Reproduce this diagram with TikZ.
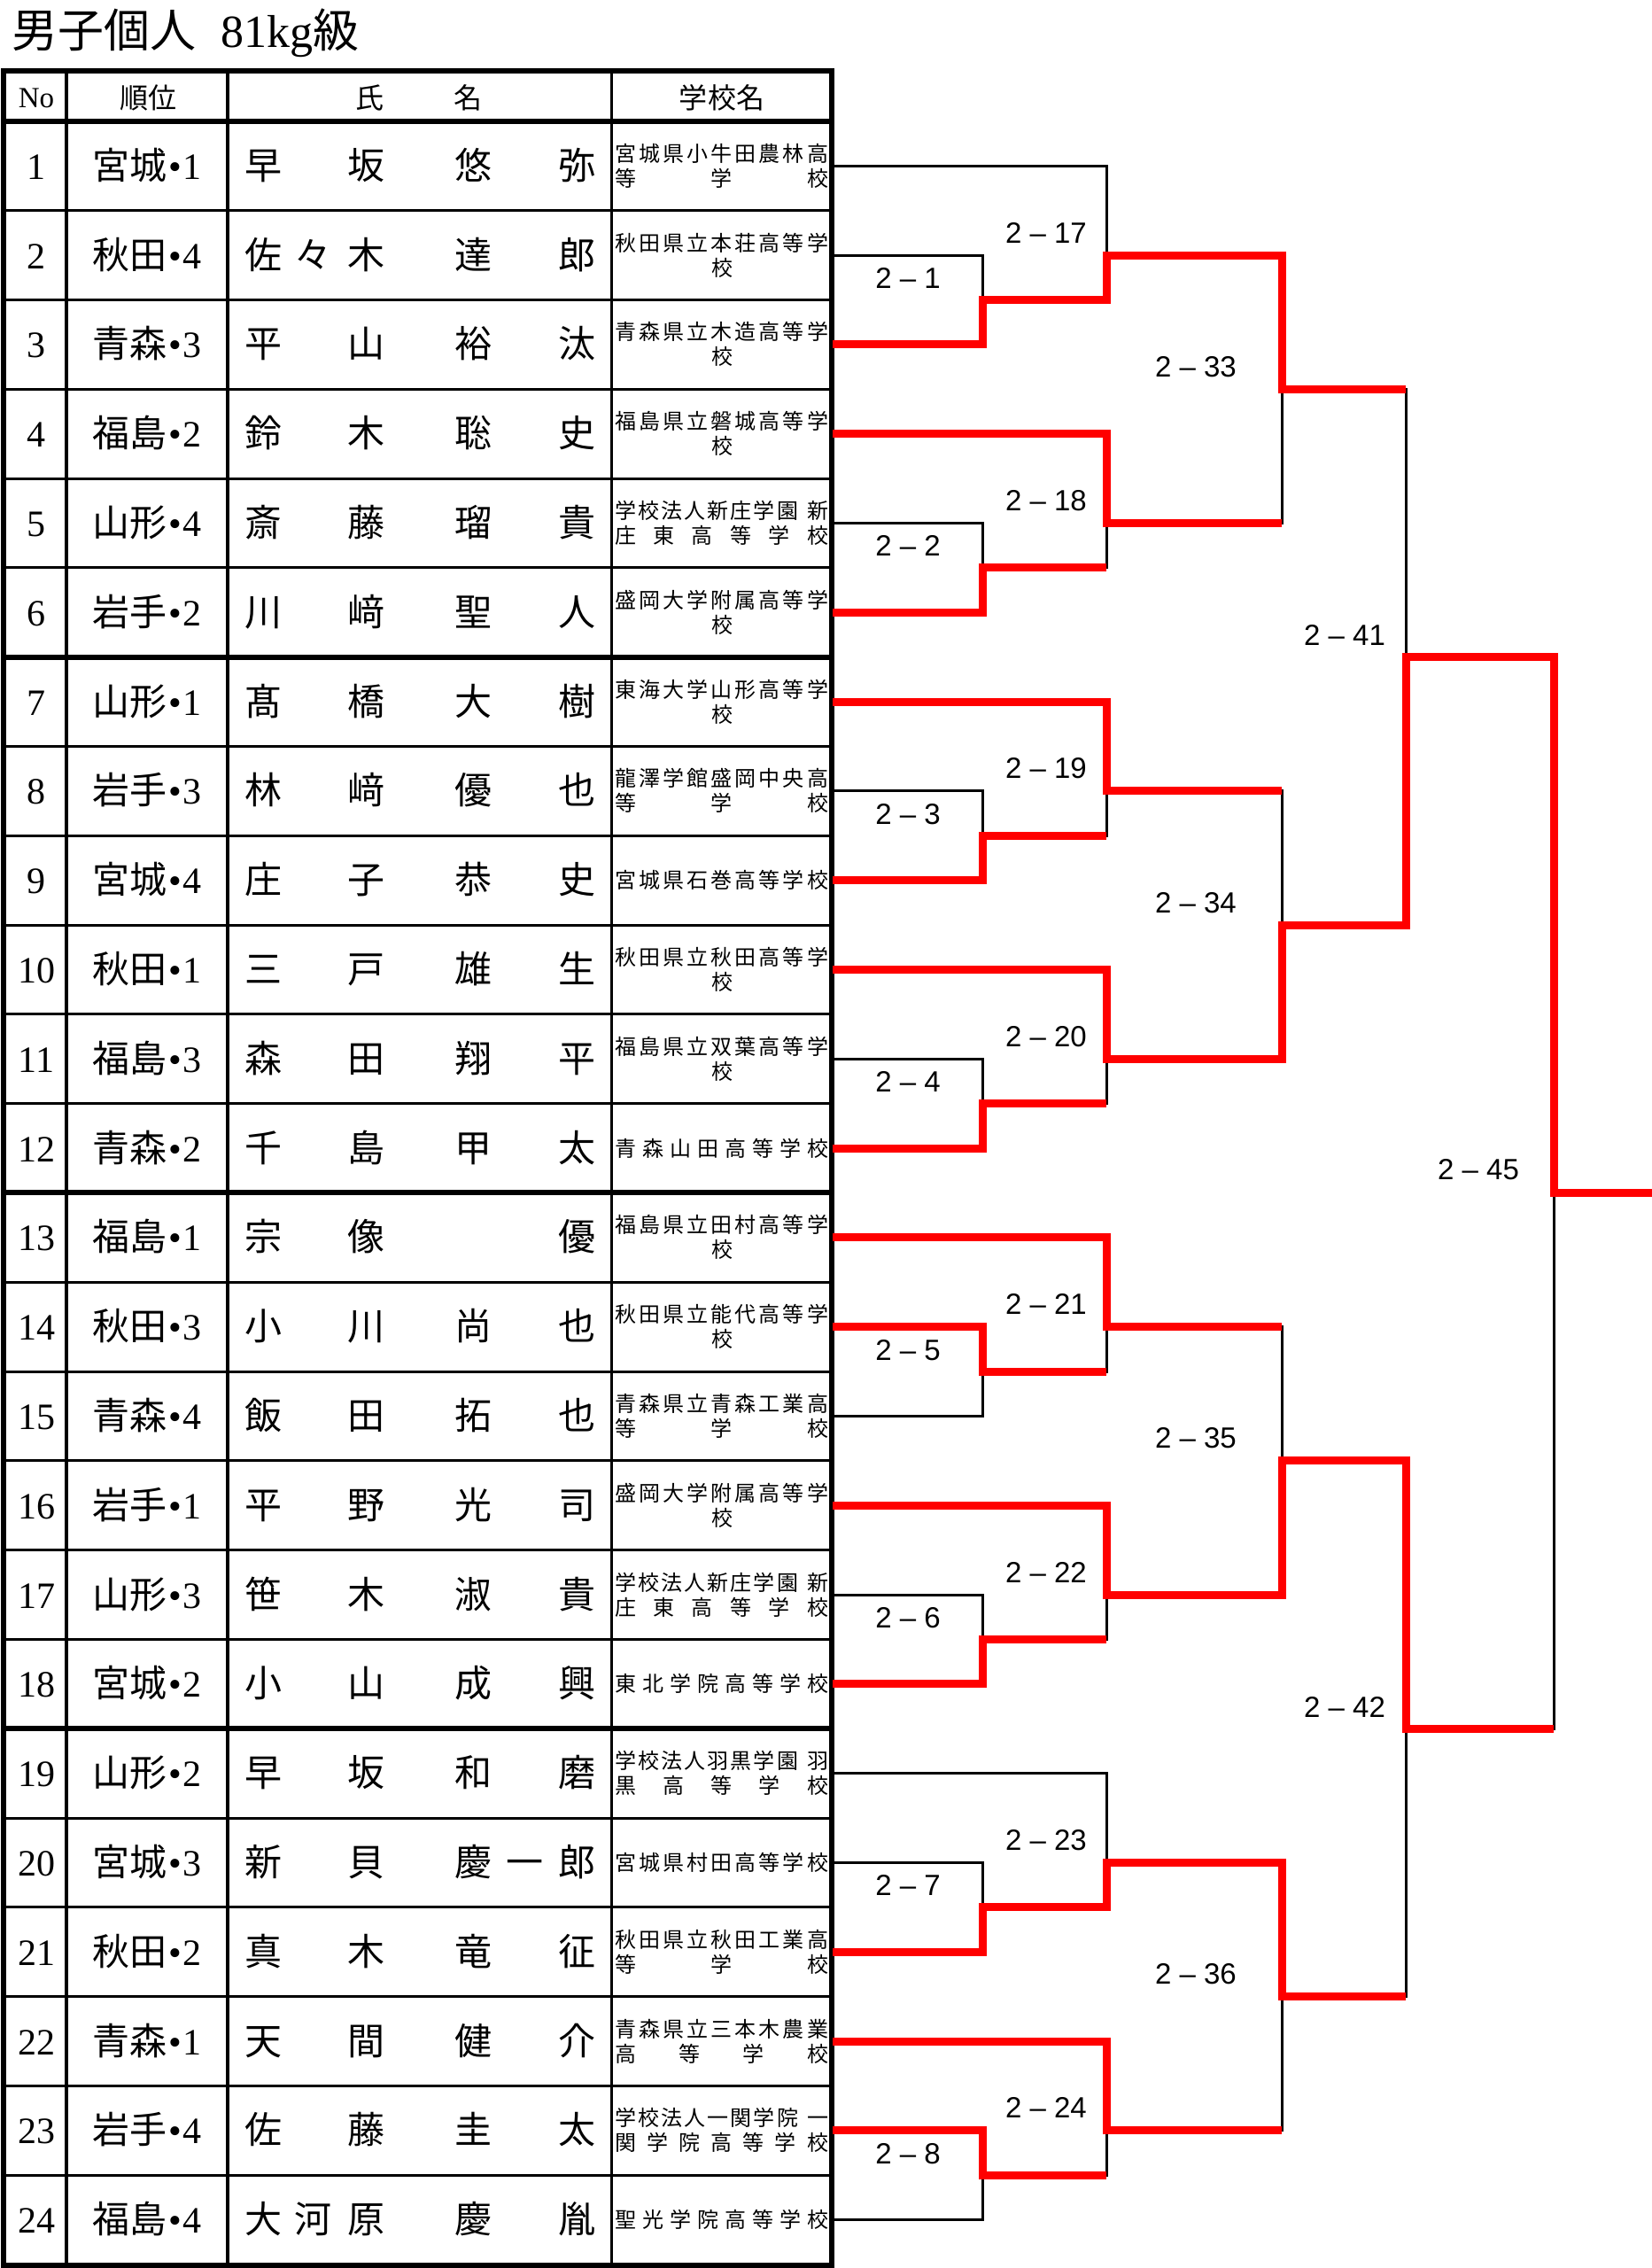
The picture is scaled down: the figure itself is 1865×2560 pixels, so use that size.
\documentclass[tikz,border=0pt]{standalone}
\usepackage{fontspec}
\setmainfont{Liberation Serif}
\newfontfamily\cjk{Noto Sans CJK JP}
\newfontfamily\labfont{Liberation Sans}
\tikzset{
  blk/.style={line width=3pt, black},
  redp/.style={line width=9pt, red, line join=miter},
  rowsep/.style={line width=3pt, black},
  boldsep/.style={line width=6pt, black},
  colsep/.style={line width=4pt, black},
  txt/.style={inner sep=0pt, anchor=base},
  numtxt/.style={txt, font=\fontsize{42}{42}\selectfont},
  nametxt/.style={txt, font=\cjk\fontsize{42}{42}\selectfont},
  schtxt/.style={txt, font=\cjk\fontsize{24}{24}\selectfont},
  headtxt/.style={txt, font=\cjk\fontsize{32}{32}\selectfont},
  mlabel/.style={txt, font=\labfont\fontsize{33}{33}\selectfont},
}
\newcommand\NC[4]{\if\relax\detokenize{#4}\relax\else\node[nametxt] (nm#1#2) at (#3,\yb) {#4};\fi}
\newcommand\PRow[9]{%
  \pgfmathsetmacro\yb{137+100.79*(#1-0.5)+15}%
  \node[numtxt] (no#1) at (41,\yb) {#1};%
  \node[numtxt] (rk#1) at (166,\yb) {{\cjk #2}\hspace{2pt}•\hspace{2pt}#3};%
  \NC{#1}{a}{297}{#4}\NC{#1}{b}{353}{#5}\NC{#1}{c}{413}{#6}%
  \NC{#1}{d}{534}{#7}\NC{#1}{e}{592}{#8}\NC{#1}{f}{651}{#9}%
}
% school line: row, tag, y offset, n, list
\newcommand\SL[5]{%
  \pgfmathsetmacro\sy{137+100.79*(#1-0.5)+#3}%
  \foreach \ch [count=\j from 0] in {#5} {%
    \pgfmathsetmacro\sx{ifthenelse(#4==1,815,706+\j*217/max(#4-1,1))}%
    \node[schtxt] (sc#1#2\j) at (\sx,\sy) {\ch};%
  }%
}
% school first line with a gap: row, list of 8, last char
\newcommand\SG[3]{%
  \pgfmathsetmacro\sy{137+100.79*(#1-0.5)-5}%
  \foreach \ch [count=\j from 0] in {#2} {%
    \node[schtxt] (sc#1a\j) at ({706+\j*26.15},\sy) {\ch};%
  }%
  \node[schtxt] (sc#1a8) at (923,\sy) {#3};%
}
\newcommand\ST[3]{\SL{#1}{a}{-5}{9}{#2}\SL{#1}{b}{23}{#3}{校}}
\begin{document}
\begin{tikzpicture}[x=1pt,y=-1pt]
\useasboundingbox (0,0) rectangle (1865,2560);
\fill[white] (0,0) rectangle (1865,2560);

% title
\node[txt, anchor=base west, font=\fontsize{52}{52}\selectfont] (title) at (13,53)
  {{\cjk 男子個人}\hspace{28pt}81kg{\cjk 級}};

% ---------- table grid ----------
\foreach \i in {1,...,23} {
  \draw[rowsep] (4,{137+100.79*\i}) -- (939,{137+100.79*\i});
}
\foreach \i in {6,12,18} {
  \draw[boldsep] (4,{137+100.79*\i}) -- (939,{137+100.79*\i});
}
\draw[boldsep] (4,137) -- (939,137);
\draw[colsep] (75,80) -- (75,2557);
\draw[colsep] (257,80) -- (257,2557);
\draw[rowsep] (690,80) -- (690,2557);
\draw[boldsep] (4,80) rectangle (939,2557);

% header
\node[txt, font=\fontsize{33}{33}\selectfont] (hNo) at (41,121) {No};
\node[headtxt] (hRank) at (167,122) {順位};
\node[headtxt] (hShi) at (417,122) {氏};
\node[headtxt] (hMei) at (528,122) {名};
\node[headtxt] (hSch) at (815,122) {学\hspace{1pt}校\hspace{1pt}名};

% rows
\PRow{1}{宮城}{1}{早}{}{坂}{悠}{}{弥}
\PRow{2}{秋田}{4}{佐}{々}{木}{達}{}{郎}
\PRow{3}{青森}{3}{平}{}{山}{裕}{}{汰}
\PRow{4}{福島}{2}{鈴}{}{木}{聡}{}{史}
\PRow{5}{山形}{4}{斎}{}{藤}{瑠}{}{貴}
\PRow{6}{岩手}{2}{川}{}{﨑}{聖}{}{人}
\PRow{7}{山形}{1}{髙}{}{橋}{大}{}{樹}
\PRow{8}{岩手}{3}{林}{}{﨑}{優}{}{也}
\PRow{9}{宮城}{4}{庄}{}{子}{恭}{}{史}
\PRow{10}{秋田}{1}{三}{}{戸}{雄}{}{生}
\PRow{11}{福島}{3}{森}{}{田}{翔}{}{平}
\PRow{12}{青森}{2}{千}{}{島}{甲}{}{太}
\PRow{13}{福島}{1}{宗}{}{像}{}{}{優}
\PRow{14}{秋田}{3}{小}{}{川}{尚}{}{也}
\PRow{15}{青森}{4}{飯}{}{田}{拓}{}{也}
\PRow{16}{岩手}{1}{平}{}{野}{光}{}{司}
\PRow{17}{山形}{3}{笹}{}{木}{淑}{}{貴}
\PRow{18}{宮城}{2}{小}{}{山}{成}{}{興}
\PRow{19}{山形}{2}{早}{}{坂}{和}{}{磨}
\PRow{20}{宮城}{3}{新}{}{貝}{慶}{一}{郎}
\PRow{21}{秋田}{2}{真}{}{木}{竜}{}{征}
\PRow{22}{青森}{1}{天}{}{間}{健}{}{介}
\PRow{23}{岩手}{4}{佐}{}{藤}{圭}{}{太}
\PRow{24}{福島}{4}{大}{河}{原}{慶}{}{胤}

% schools
\SL{1}{a}{-5}{9}{宮,城,県,小,牛,田,農,林,高}\SL{1}{b}{23}{3}{等,学,校}
\ST{2}{秋,田,県,立,本,荘,高,等,学}{1}
\ST{3}{青,森,県,立,木,造,高,等,学}{1}
\ST{4}{福,島,県,立,磐,城,高,等,学}{1}
\SG{5}{学,校,法,人,新,庄,学,園}{新}\SL{5}{b}{23}{6}{庄,東,高,等,学,校}
\ST{6}{盛,岡,大,学,附,属,高,等,学}{1}
\ST{7}{東,海,大,学,山,形,高,等,学}{1}
\SL{8}{a}{-5}{9}{龍,澤,学,館,盛,岡,中,央,高}\SL{8}{b}{23}{3}{等,学,校}
\SL{9}{s}{9}{9}{宮,城,県,石,巻,高,等,学,校}
\ST{10}{秋,田,県,立,秋,田,高,等,学}{1}
\ST{11}{福,島,県,立,双,葉,高,等,学}{1}
\SL{12}{s}{9}{8}{青,森,山,田,高,等,学,校}
\ST{13}{福,島,県,立,田,村,高,等,学}{1}
\ST{14}{秋,田,県,立,能,代,高,等,学}{1}
\SL{15}{a}{-5}{9}{青,森,県,立,青,森,工,業,高}\SL{15}{b}{23}{3}{等,学,校}
\ST{16}{盛,岡,大,学,附,属,高,等,学}{1}
\SG{17}{学,校,法,人,新,庄,学,園}{新}\SL{17}{b}{23}{6}{庄,東,高,等,学,校}
\SL{18}{s}{9}{8}{東,北,学,院,高,等,学,校}
\SG{19}{学,校,法,人,羽,黒,学,園}{羽}\SL{19}{b}{23}{5}{黒,高,等,学,校}
\SL{20}{s}{9}{9}{宮,城,県,村,田,高,等,学,校}
\SL{21}{a}{-5}{9}{秋,田,県,立,秋,田,工,業,高}\SL{21}{b}{23}{3}{等,学,校}
\SL{22}{a}{-5}{9}{青,森,県,立,三,本,木,農,業}\SL{22}{b}{23}{4}{高,等,学,校}
\SG{23}{学,校,法,人,一,関,学,院}{一}\SL{23}{b}{23}{7}{関,学,院,高,等,学,校}
\SL{24}{s}{9}{8}{聖,光,学,院,高,等,学,校}

% ---------- bracket coordinates ----------
\foreach \i in {1,...,24} {
  \coordinate (r\i) at (940,{137+100.79*(\i-0.5)});
}
\foreach \g in {0,...,3} {
  \pgfmathtruncatemacro\ma{2*\g+1}
  \pgfmathtruncatemacro\mb{2*\g+2}
  \pgfmathtruncatemacro\mc{17+2*\g}
  \pgfmathtruncatemacro\md{18+2*\g}
  \pgfmathtruncatemacro\me{33+\g}
  \pgfmathtruncatemacro\k{6*\g}
  \coordinate (m\ma) at (1109,{137+100.79*(\k+2)});
  \coordinate (m\mb) at (1109,{137+100.79*(\k+5)});
  \coordinate (m\mc) at (1249,{137+100.79*(\k+1.5)});
  \coordinate (m\md) at (1249,{137+100.79*(\k+4.5)});
  \coordinate (m\me) at (1447,{137+100.79*(\k+3)});
}
\coordinate (m41) at (1587,{137+100.79*6});
\coordinate (m42) at (1587,{137+100.79*18});
\coordinate (m45) at (1754,{137+100.79*12});
\coordinate (fin) at (1865,{137+100.79*12});

% ---------- black bracket ----------
\foreach \g in {0,...,3} {
  \pgfmathtruncatemacro\ma{2*\g+1}
  \pgfmathtruncatemacro\mb{2*\g+2}
  \pgfmathtruncatemacro\mc{17+2*\g}
  \pgfmathtruncatemacro\md{18+2*\g}
  \pgfmathtruncatemacro\me{33+\g}
  \pgfmathtruncatemacro\ra{6*\g+1}
  \pgfmathtruncatemacro\rb{6*\g+2}
  \pgfmathtruncatemacro\rc{6*\g+3}
  \pgfmathtruncatemacro\rd{6*\g+4}
  \pgfmathtruncatemacro\re{6*\g+5}
  \pgfmathtruncatemacro\rf{6*\g+6}
  \draw[blk] (r\rb) -| (m\ma);
  \draw[blk] (r\rc) -| (m\ma);
  \draw[blk] (r\re) -| (m\mb);
  \draw[blk] (r\rf) -| (m\mb);
  \draw[blk] (r\ra) -| (m\mc);
  \draw[blk] (m\ma) -| (m\mc);
  \draw[blk] (r\rd) -| (m\md);
  \draw[blk] (m\mb) -| (m\md);
  \draw[blk] (m\mc) -| (m\me);
  \draw[blk] (m\md) -| (m\me);
}
\draw[blk] (m33) -| (m41);
\draw[blk] (m34) -| (m41);
\draw[blk] (m35) -| (m42);
\draw[blk] (m36) -| (m42);
\draw[blk] (m41) -| (m45);
\draw[blk] (m42) -| (m45);
\draw[blk] (m45) -- (fin);

% ---------- red winner paths ----------
\draw[redp] (r3) -| (m1) -| (m17) -| (m33) -- (m33 -| m41);
\draw[redp] (r6) -| (m2) -- (m2 -| m18);
\draw[redp] (r4) -| (m18) -- (m18 -| m33);
\draw[redp] (r9) -| (m3) -- (m3 -| m19);
\draw[redp] (r7) -| (m19) -- (m19 -| m34);
\draw[redp] (r12) -| (m4) -- (m4 -| m20);
\draw[redp] (r10) -| (m20) -| (m34) -| (m41) -| (m45) -- (fin);
\draw[redp] (r14) -| (m5) -- (m5 -| m21);
\draw[redp] (r13) -| (m21) -- (m21 -| m35);
\draw[redp] (r18) -| (m6) -- (m6 -| m22);
\draw[redp] (r16) -| (m22) -| (m35) -| (m42) -- (m42 -| m45);
\draw[redp] (r21) -| (m7) -| (m23) -| (m36) -- (m36 -| m42);
\draw[redp] (r23) -| (m8) -- (m8 -| m24);
\draw[redp] (r22) -| (m24) -- (m24 -| m36);

% ---------- match labels ----------
\foreach \g in {0,...,3} {
  \pgfmathtruncatemacro\ma{2*\g+1}
  \pgfmathtruncatemacro\mb{2*\g+2}
  \pgfmathtruncatemacro\mc{17+2*\g}
  \pgfmathtruncatemacro\md{18+2*\g}
  \pgfmathtruncatemacro\me{33+\g}
  \pgfmathtruncatemacro\k{6*\g}
  \node[mlabel] (L\ma) at (1025,{137+100.79*(\k+2)-13}) {2 – \ma};
  \node[mlabel] (L\mb) at (1025,{137+100.79*(\k+5)-13}) {2 – \mb};
  \node[mlabel] (L\mc) at (1181,{137+100.79*(\k+1.5)-14}) {2 – \mc};
  \node[mlabel] (L\md) at (1181,{137+100.79*(\k+4.5)-14}) {2 – \md};
  \node[mlabel] (L\me) at (1350,{137+100.79*(\k+3)-14}) {2 – \me};
}
\node[mlabel] (L41) at (1518,{137+100.79*6-13}) {2 – 41};
\node[mlabel] (L42) at (1518,{137+100.79*18-13}) {2 – 42};
\node[mlabel] (L45) at (1669,{137+100.79*12-15}) {2 – 45};
\end{tikzpicture}
\end{document}
